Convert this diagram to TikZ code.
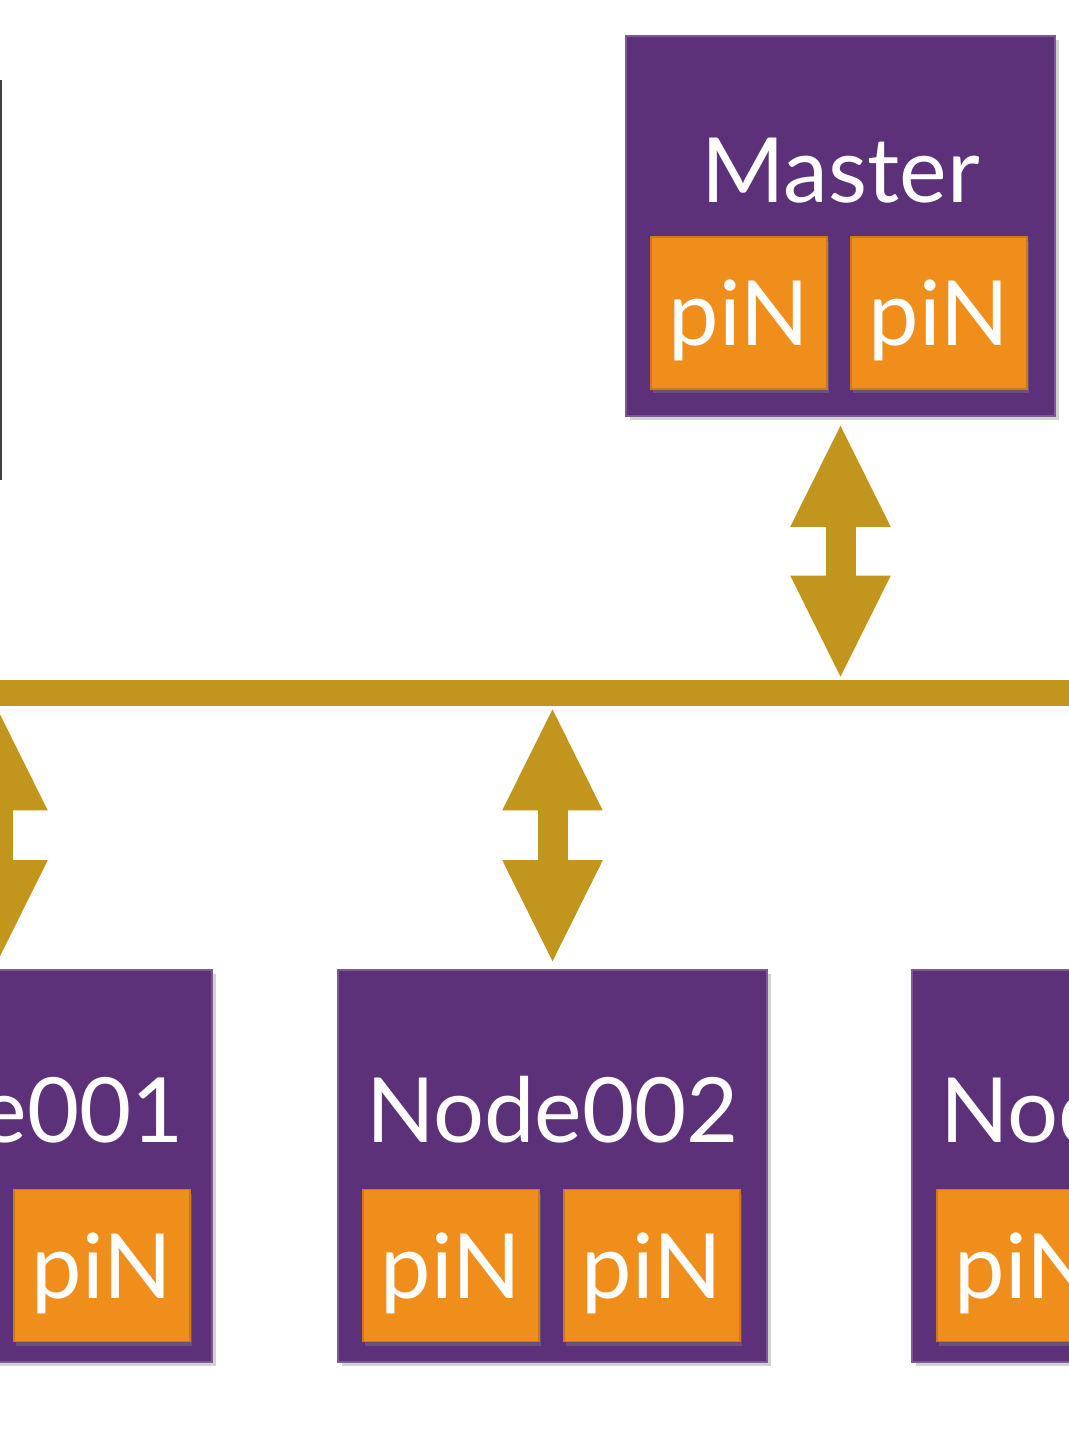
\documentclass[tikz,border=0pt]{standalone}
\usepackage{fontspec}
\setmainfont{Lato}
\definecolor{hpurple}{HTML}{5D3179}
\definecolor{horange}{HTML}{F08E1C}
\definecolor{hgold}{HTML}{C2961C}
\usetikzlibrary{arrows.meta,positioning,shadows}

\begin{document}
\begin{tikzpicture}[x=0.5pt, y=-0.5pt,
        hostbox/.style={rectangle, fill=hpurple, draw=hpurple!80!white, line width=0.8pt,
                        minimum width=214.5pt, inner sep=0pt,
                        drop shadow={shadow xshift=2pt, shadow yshift=-2pt, opacity=0.35}},
        pinbox/.style={rectangle, fill=horange, draw=horange!85!black, line width=0.6pt,
                       minimum width=88pt, minimum height=76pt, inner sep=0pt,
                       text=white, font=\fontsize{45}{48}\selectfont, text depth=0pt,
                       drop shadow={shadow xshift=1pt, shadow yshift=-2pt, opacity=0.4}},
        title/.style={text=white, font=\fontsize{45}{48}\selectfont, inner sep=0pt},
        busarr/.style={{Triangle[width=46pt,length=52pt]}-{Triangle[width=46pt,length=52pt]},
                       line width=15pt, hgold}
      ]
        \useasboundingbox (0,0) rectangle (1069,1440);
        \clip (0,0) rectangle (1069,1440);
        \fill[white] (0,0) rectangle (1069,1440);
        \fill[black!75] (0,80) rectangle (2,480);

        % master
        \node[hostbox, minimum height=190pt] (master) at (840.5,226) {};
        \node[title] (mtitle) at (840.5,171) {Master};
        \node[pinbox] (mpin1) at (739,313) {piN};
        \node[pinbox] (mpin2) at (939,313) {piN};

        % bus
        \node[rectangle, fill=hgold, minimum width=600pt, minimum height=13pt, inner sep=0pt]
             (bus) at (534.5,693) {};

        % workers
        \node[hostbox, minimum height=196pt] (n1) at (-2.5,1166) {};
        \node[title] (n1title) at (-2.5,1110) {Node001};
        \node[pinbox] (n1pin1) at (-98,1265.5) {piN};
        \node[pinbox] (n1pin2) at (102,1265.5) {piN};

        \node[hostbox, minimum height=196pt] (n2) at (552.5,1166) {};
        \node[title] (n2title) at (552.5,1110) {Node002};
        \node[pinbox] (n2pin1) at (451,1265.5) {piN};
        \node[pinbox] (n2pin2) at (652,1265.5) {piN};

        \node[hostbox, minimum height=196pt] (n3) at (1126.5,1166) {};
        \node[title] (n3title) at (1126.5,1110) {Node003};
        \node[pinbox] (n3pin1) at (1025,1265.5) {piN};
        \node[pinbox] (n3pin2) at (1226,1265.5) {piN};

        \draw[busarr, shorten <=3pt] (master.south) -- (master.south |- bus.north);
        \draw[busarr, shorten >=2.5pt] (n1.north |- bus.south) -- (n1.north);
        \draw[busarr, shorten >=2.5pt] (n2.north |- bus.south) -- (n2.north);
      \end{tikzpicture}
\end{document}
